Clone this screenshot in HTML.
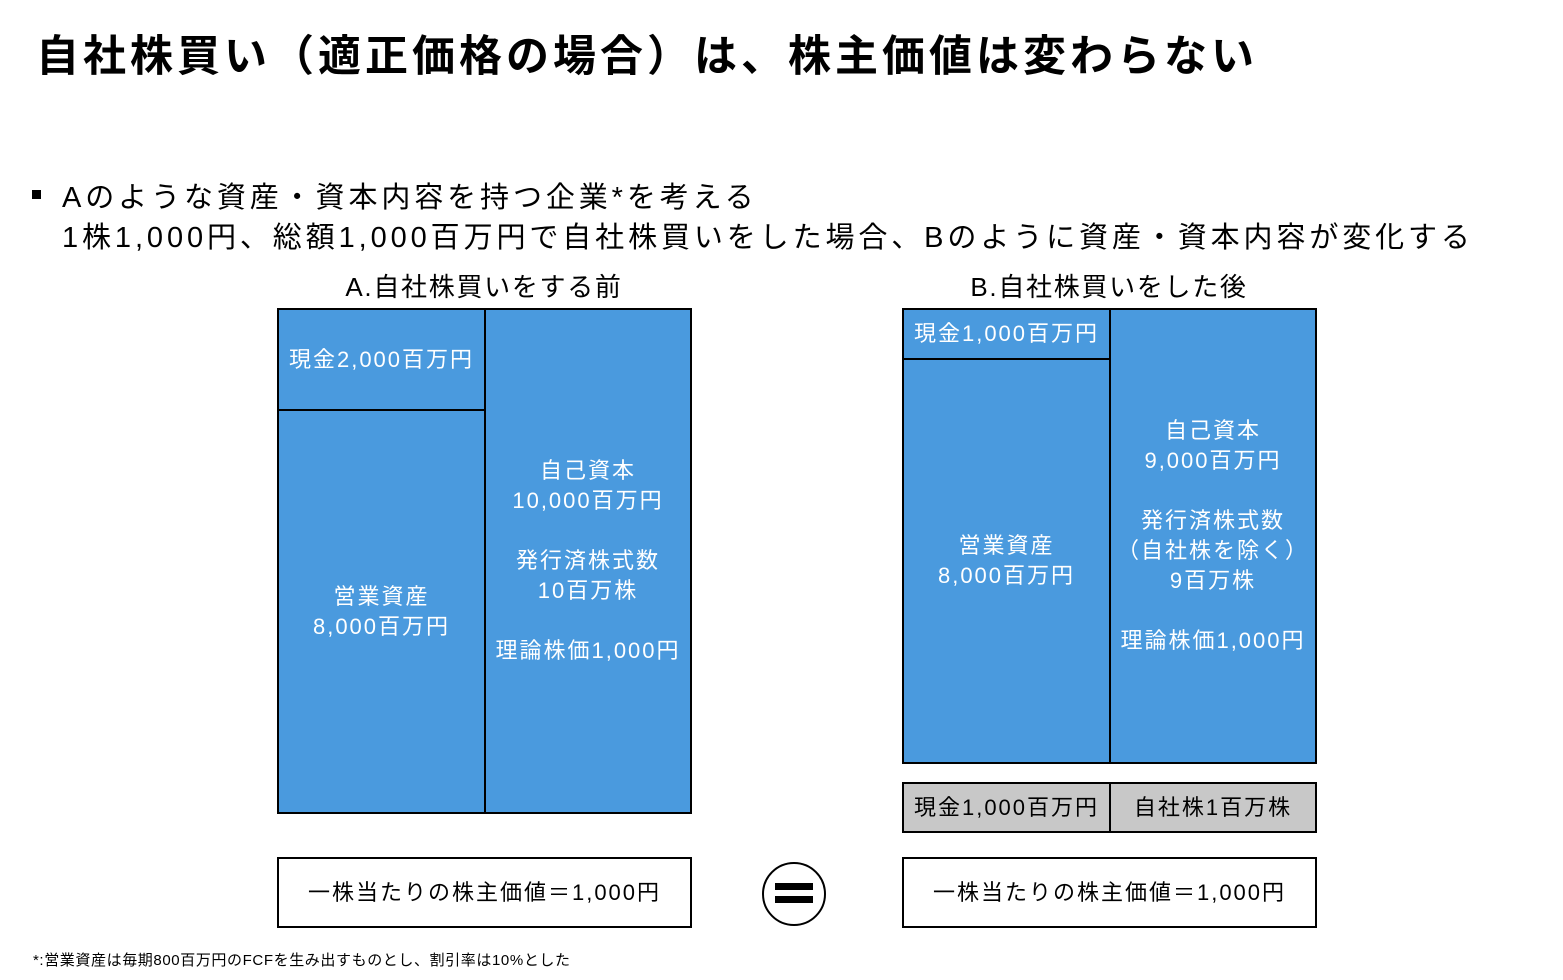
<!DOCTYPE html>
<html><head><meta charset="utf-8"><style>
body{margin:0;width:1563px;height:980px;background:#fff;position:relative;overflow:hidden;font-family:"Liberation Sans","Noto Sans CJK JP",sans-serif;}
.a{position:absolute;}
.b{position:absolute;background:#4a9ade;border:2px solid #000;box-sizing:border-box;color:#fff;font-size:22px;line-height:30px;letter-spacing:2px;display:flex;align-items:center;justify-content:center;text-align:center;}
.g{background:#c8c8c8;color:#000;}
.w{background:#fff;color:#000;}
</style></head><body>
<div class="a" style="left:36px;top:22px;font-size:43px;font-weight:bold;letter-spacing:4px;white-space:nowrap;">自社株買い（適正価格の場合）は、株主価値は変わらない</div>
<div class="a" style="left:32px;top:190px;width:9px;height:9px;background:#000;"></div>
<div class="a" style="left:62px;top:178px;font-size:29px;line-height:40px;letter-spacing:3.9px;white-space:nowrap;">Aのような資産・資本内容を持つ企業*を考える<br>1株1,000円、総額1,000百万円で自社株買いをした場合、Bのように資産・資本内容が変化する</div>
<div class="a" style="left:277px;width:414px;top:267px;font-size:26px;letter-spacing:1.7px;text-align:center;">A.自社株買いをする前</div>
<div class="a" style="left:902px;width:414px;top:267px;font-size:26px;letter-spacing:1.7px;text-align:center;">B.自社株買いをした後</div>

<div class="b" style="left:277px;top:308px;width:209px;height:103px;">現金2,000百万円</div>
<div class="b" style="left:277px;top:409px;width:209px;height:405px;">営業資産<br>8,000百万円</div>
<div class="b" style="left:484px;top:308px;width:208px;height:506px;">自己資本<br>10,000百万円<br><br>発行済株式数<br>10百万株<br><br>理論株価1,000円</div>

<div class="b" style="left:902px;top:308px;width:209px;height:52px;">現金1,000百万円</div>
<div class="b" style="left:902px;top:358px;width:209px;height:406px;">営業資産<br>8,000百万円</div>
<div class="b" style="left:1109px;top:308px;width:208px;height:456px;">自己資本<br>9,000百万円<br><br>発行済株式数<br>（自社株を除く）<br>9百万株<br><br>理論株価1,000円</div>

<div class="b g" style="left:902px;top:782px;width:209px;height:51px;">現金1,000百万円</div>
<div class="b g" style="left:1109px;top:782px;width:208px;height:51px;">自社株1百万株</div>

<div class="b w" style="left:277px;top:857px;width:415px;height:71px;">一株当たりの株主価値＝1,000円</div>
<div class="b w" style="left:902px;top:857px;width:415px;height:71px;">一株当たりの株主価値＝1,000円</div>

<div class="a" style="left:762px;top:862px;width:60px;height:60px;border:2px solid #000;border-radius:50%;"></div>
<div class="a" style="left:775px;top:883px;width:38px;height:7px;background:#000;"></div>
<div class="a" style="left:775px;top:896px;width:38px;height:7px;background:#000;"></div>

<div class="a" style="left:33px;top:949px;font-size:15px;letter-spacing:0.6px;white-space:nowrap;">*:営業資産は毎期800百万円のFCFを生み出すものとし、割引率は10%とした</div>
</body></html>
